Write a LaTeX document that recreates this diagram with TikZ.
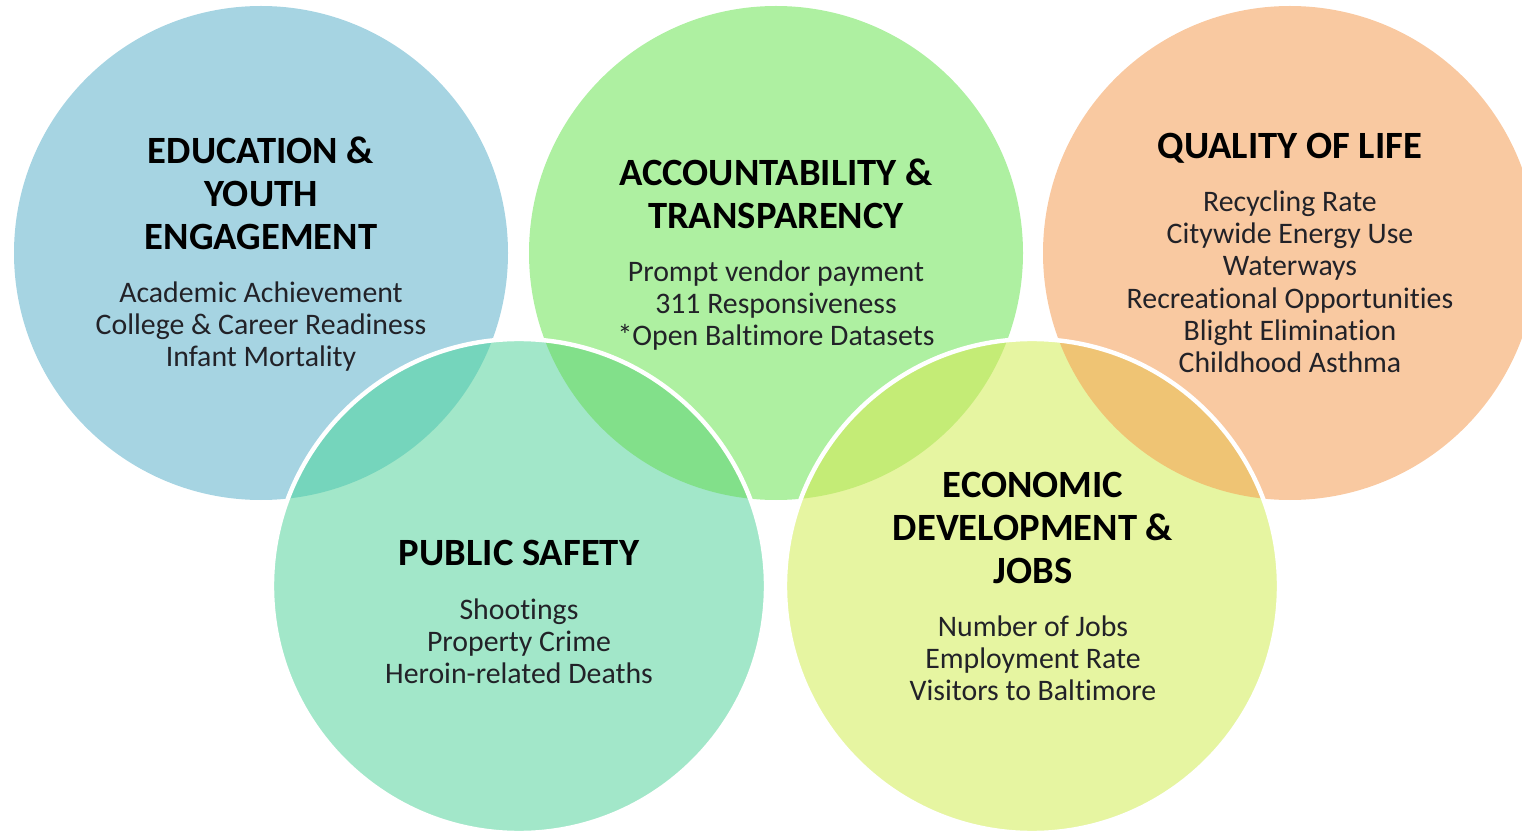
\documentclass[tikz,border=0pt]{standalone}
\usepackage{fontspec}
\setmainfont{Carlito}[Ligatures={NoCommon,NoRare,NoContextual}]
% keep "t" and "i" as separate glyphs
\newcommand\ti{t\kern0pt i}
\definecolor{eduFill}{HTML}{A6D4E2}
\definecolor{accFill}{HTML}{AEF0A1}
\definecolor{qolFill}{HTML}{F9C9A1}
\definecolor{psFill}{HTML}{A2E7C9}
\definecolor{ecoFill}{HTML}{E6F5A1}
\definecolor{eduPsMix}{HTML}{75D5BC}
\definecolor{accPsMix}{HTML}{82E08A}
\definecolor{accEcoMix}{HTML}{C4EC76}
\definecolor{qolEcoMix}{HTML}{EFC474}
\definecolor{bodyText}{HTML}{222228}
% multi-line nodes below are placed by the baseline of their last line
\tikzset{
  topdisc/.style={circle, minimum size=247pt, inner sep=0pt},
  lowdisc/.style={circle, minimum size=247pt, inner sep=0pt},
  heading/.style={anchor=base, align=center, inner sep=0pt, text=black,
    font=\bfseries\fontsize{19.3}{21.4}\selectfont},
  items/.style={anchor=base, align=center, inner sep=0pt, text=bodyText,
    font=\fontsize{14.9}{16.1}\selectfont},
}
\begin{document}
\begin{tikzpicture}[x=0.5pt, y=-0.5pt]
  \useasboundingbox (0,0) rectangle (1522,834);

  % upper row of discs
  \node (edu) [topdisc, fill=eduFill] at (261,253) {};
  \node (acc) [topdisc, fill=accFill] at (776,253) {};
  \node (qol) [topdisc, fill=qolFill] at (1290,253) {};

  % lower row of discs
  \node (ps)  [lowdisc, fill=psFill]  at (519,586) {};
  \node (eco) [lowdisc, fill=ecoFill] at (1032,586) {};

  % overlapping lenses
  \begin{scope}
    \clip (edu.center) circle[radius=123.5pt];
    \fill[eduPsMix] (ps.center) circle[radius=123.5pt];
  \end{scope}
  \begin{scope}
    \clip (acc.center) circle[radius=123.5pt];
    \fill[accPsMix] (ps.center) circle[radius=123.5pt];
    \fill[accEcoMix] (eco.center) circle[radius=123.5pt];
  \end{scope}
  \begin{scope}
    \clip (qol.center) circle[radius=123.5pt];
    \fill[qolEcoMix] (eco.center) circle[radius=123.5pt];
  \end{scope}

  % white rims of the lower discs
  \draw[white, line width=2.2pt] (ps.center) circle[radius=123.5pt];
  \draw[white, line width=2.2pt] (eco.center) circle[radius=123.5pt];

  % texts
  \node (eduTitle) [heading] at (261,249.5) {EDUCATION \&\\YOUTH\\ENGAGEMENT};
  \node (eduItems) [items] at (261,366.5) {Academic Achievement\\College \& Career Readiness\\Infant Mortality};

  \node (accTitle) [heading] at (776,228.5) {ACCOUNTABILITY \&\\TRANSPARENCY};
  \node (accItems) [items] at (776,345.5) {Prompt vendor payment\\311 Responsiveness\\*Open Baltimore Datasets};

  \node (qolTitle) [heading] at (1290,158.5) {QUALITY OF LIFE};
  \node (qolItems) [items] at (1290,372.5) {Recycling Rate\\Citywide Energy Use\\Waterways\\Recrea\ti onal Opportuni\ti es\\Blight Elimina\ti on\\Childhood Asthma};

  \node (psTitle) [heading] at (519,565.5) {PUBLIC SAFETY};
  \node (psItems) [items] at (519,683.5) {Shoo\ti ngs\\Property Crime\\Heroin-related Deaths};

  \node (ecoTitle) [heading] at (1033,583.5) {ECONOMIC\\DEVELOPMENT \&\\JOBS};
  \node (ecoItems) [items] at (1033,700.5) {Number of Jobs\\Employment Rate\\Visitors to Baltimore};
\end{tikzpicture}
\end{document}
